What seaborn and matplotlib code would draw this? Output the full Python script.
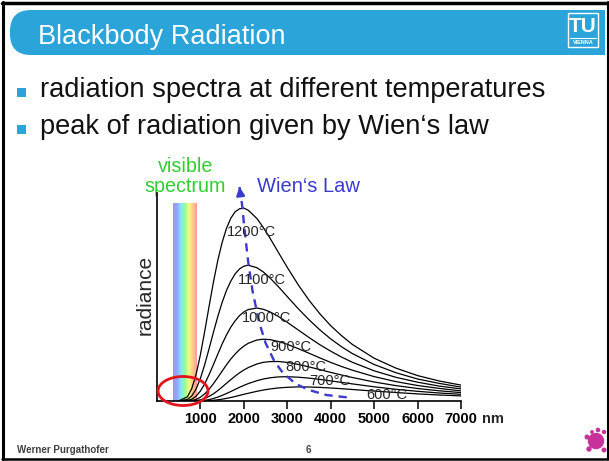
import numpy as np
import pandas as pd
import seaborn as sns
import matplotlib.pyplot as plt
from matplotlib.patches import Ellipse, FancyBboxPatch, Rectangle, Circle
from matplotlib.colors import LinearSegmentedColormap

# longitudes de onda (nm) y radiancia (unidades arbitrarias)
wavelength = [500, 700, 800, 900, 1000, 1100, 1200, 1300, 1400, 1500, 1600, 1700, 1800, 1900,
              2000, 2100, 2300, 2450, 2600, 2800, 3000, 3250, 3500, 3750, 4000, 4250, 4500,
              5000, 5500, 6000, 6500, 7000]

rad_1200 = [0.1, 4.2, 12.3, 26.5, 46.4, 70.0, 94.9, 119.0, 140.6, 158.6, 172.7, 182.8, 189.3, 192.2,
            192.9, 190.8, 182.5, 173.4, 163.0, 148.2, 133.6, 116.3, 100.8, 87.2, 75.3, 65.3, 56.5,
            42.8, 32.9, 25.4, 20.0, 15.9]
rad_1100 = [0.0, 1.5, 5.1, 12.0, 22.6, 36.6, 52.4, 68.8, 84.5, 98.6, 110.6, 119.9, 127.2, 132.1,
            134.8, 135.8, 133.3, 129.0, 123.1, 114.1, 104.4, 92.4, 81.3, 71.1, 62.1, 54.2, 47.4,
            36.5, 28.3, 22.0, 17.6, 13.9]
rad_1000 = [0.0, 0.5, 1.8, 4.8, 10.0, 17.3, 26.4, 36.5, 46.9, 57.0, 66.1, 73.9, 80.2, 85.4,
            89.1, 91.4, 93.0, 91.7, 89.2, 84.4, 78.7, 71.1, 63.5, 56.3, 49.8, 43.9, 38.7,
            30.2, 23.7, 18.8, 14.9, 12.1]
rad_900 = [0.0, 0.1, 0.5, 1.6, 3.8, 7.2, 11.8, 17.4, 23.5, 29.9, 36.2, 42.0, 47.0, 51.4,
           54.9, 57.7, 61.0, 61.8, 61.4, 59.5, 56.7, 52.4, 47.8, 43.1, 38.6, 34.5, 30.8,
           24.4, 19.4, 15.5, 12.6, 10.1]
rad_800 = [0.0, 0.0, 0.1, 0.5, 1.2, 2.5, 4.6, 7.2, 10.4, 14.0, 17.7, 21.4, 24.9, 28.2,
           31.0, 33.4, 37.0, 38.7, 39.4, 39.5, 38.6, 36.6, 34.1, 31.4, 28.6, 26.0, 23.5,
           19.0, 15.4, 12.5, 10.2, 8.4]
rad_700 = [0.0, 0.0, 0.0, 0.1, 0.3, 0.7, 1.4, 2.5, 3.9, 5.6, 7.5, 9.5, 11.6, 13.7,
           15.6, 17.4, 20.3, 22.0, 23.2, 24.1, 24.3, 23.8, 22.9, 21.6, 20.1, 18.6, 17.1,
           14.2, 11.7, 9.7, 8.0, 6.7]
rad_600 = [0.0, 0.0, 0.0, 0.0, 0.1, 0.2, 0.4, 0.7, 1.2, 1.8, 2.6, 3.5, 4.5, 5.6,
           6.7, 7.7, 9.7, 11.0, 12.0, 13.1, 13.7, 14.1, 14.0, 13.6, 13.0, 12.3, 11.5,
           9.9, 8.5, 7.1, 6.0, 5.1]

temps = ['1200°C', '1100°C', '1000°C', '900°C', '800°C', '700°C', '600°C']
curves = [rad_1200, rad_1100, rad_1000, rad_900, rad_800, rad_700, rad_600]

# posicion de las etiquetas de temperatura
label_nm = [2184, 2414, 2522, 3080, 3425, 3989, 5299]
label_rad = [169, 121, 83, 54, 34, 20, 6]

# ley de Wien (maximos)
wien_nm = [1900, 1970, 2000, 2100, 2200, 2350, 2500, 2700, 2900, 3200, 3500, 3900, 4400]
wien_rad = [214, 193, 178, 139, 110, 79, 58, 40, 28, 17, 11, 6, 3.5]

xticks = [1000, 2000, 3000, 4000, 5000, 6000, 7000]
visible_nm = [360, 900]
visible_top = 197
rainbow = ['#a294ea', '#8fa6ff', '#86e6ff', '#92ff95', '#f6fb86', '#ffc98a', '#ff9a96']

blue = '#2aa4d9'
wien_blue = '#3a3acc'
green = '#33cc33'

sns.set_style('white')
plt.rcParams['font.family'] = ['Liberation Sans', 'DejaVu Sans']

fig = plt.figure(figsize=(6.09, 4.61), dpi=100)

# fondo de la diapositiva en pixeles
bg = fig.add_axes([0, 0, 1, 1])
bg.set_xlim(0, 609)
bg.set_ylim(461, 0)
bg.axis('off')

# marco
bg.plot([3, 3], [2, 459], color='black', lw=2.2)
bg.plot([2, 609], [3, 3], color='black', lw=2.5)
bg.plot([2, 609], [459, 459], color='black', lw=1.8)
bg.plot([607.5, 607.5], [2, 459], color='black', lw=1.5)

# banda del titulo
bg.add_patch(FancyBboxPatch((10, 10), 120, 45, boxstyle='round,pad=0,rounding_size=21',
                            fc=blue, ec='none'))
bg.add_patch(Rectangle((60, 10), 545, 45, fc=blue, ec='none'))
bg.text(38, 44, 'Blackbody Radiation', color='white', fontsize=19.5, va='baseline')

# logo TU
bg.add_patch(Rectangle((568, 13), 30, 34, fill=False, ec='white', lw=1))
bg.text(583, 27, 'TU', color='white', fontsize=15, fontweight='bold', ha='center', va='center')
bg.plot([570, 596], [38, 38], color='white', lw=0.8)
bg.text(583, 43, 'VIENNA', color='white', fontsize=4, fontweight='bold', ha='center', va='center')

# vinetas
bg.add_patch(Rectangle((17, 88), 9, 9, fc=blue, ec='none'))
bg.text(40, 97, 'radiation spectra at different temperatures', fontsize=19.6, va='baseline', color='#111111')
bg.add_patch(Rectangle((17, 125), 9, 9, fc=blue, ec='none'))
bg.text(40, 134, 'peak of radiation given by Wien\u2018s law', fontsize=19.6, va='baseline', color='#111111')

# textos de la grafica
bg.text(185.5, 166, 'visible', color=green, fontsize=14.2, ha='center', va='center')
bg.text(185.5, 186, 'spectrum', color=green, fontsize=14.2, ha='center', va='center')
bg.text(257, 186, 'Wien\u2018s Law', color=wien_blue, fontsize=14.5, ha='left', va='center')
bg.text(482, 419, 'nm', fontsize=10.5, fontweight='bold', va='center')

# pie de pagina
bg.text(17, 450, 'Werner Purgathofer', fontsize=7, fontweight='bold', color='#404040', va='center')
bg.text(308, 450, '6', fontsize=7, fontweight='bold', color='#404040', va='center', ha='center')
for cx, cy, r in [(596, 441, 7.5), (587, 437, 1.8), (604, 432, 1.5), (598, 430, 1.6),
                  (589, 449, 2.0), (604, 450, 1.8), (592, 432, 1.2)]:
    bg.add_patch(Circle((cx, cy), r, color='#c8309c'))

# grafica
ax = fig.add_axes([157 / 609, 60 / 461, 304 / 609, 208 / 461])
ax.set_facecolor('none')

cmap = LinearSegmentedColormap.from_list('visible', rainbow)
ax.imshow(np.linspace(0, 1, 256)[None, :], cmap=cmap, aspect='auto', interpolation='bilinear',
          extent=[visible_nm[0], visible_nm[1], 0, visible_top], zorder=0.5)

df = pd.DataFrame({
    'wavelength': wavelength * len(curves),
    'radiance': sum(curves, []),
    'temp': np.repeat(temps, len(wavelength)),
})
sns.lineplot(data=df, x='wavelength', y='radiance', units='temp', estimator=None,
             color='black', linewidth=0.9, ax=ax, zorder=3)

sns.lineplot(x=wien_nm, y=wien_rad, color=wien_blue, linewidth=1.7, ax=ax, zorder=4)
wl = ax.lines[-1]
wl.set_dashes([3.5, 2.5])
wl.set_clip_on(False)
ax.annotate('', xy=(wien_nm[0], wien_rad[0]), xytext=(wien_nm[2], wien_rad[2]),
            arrowprops=dict(arrowstyle='-|>', color=wien_blue, lw=1.7, mutation_scale=12,
                            shrinkA=20, shrinkB=0),
            annotation_clip=False, zorder=4)

for t, x, y in zip(temps, label_nm, label_rad):
    ax.text(x, y, t, ha='center', va='center', fontsize=10.5, zorder=5)

ax.add_patch(Ellipse((600, 10), 1150, 29, fill=False, ec='#e3131b', lw=2, clip_on=False, zorder=6))

ax.set_xlim(0, 7000)
ax.set_ylim(0, 208)
ax.set_xticks(xticks)
ax.set_xticklabels([str(t) for t in xticks], fontweight='bold', fontsize=10.5)
ax.set_yticks([])
ax.set_xlabel('')
ax.set_ylabel('radiance', fontsize=15)
ax.yaxis.set_label_coords(-0.008, 0.51)
sns.despine(ax=ax)
for s in ['left', 'bottom']:
    ax.spines[s].set_color('black')
    ax.spines[s].set_linewidth(1.2)
ax.tick_params(axis='x', direction='out', length=6, width=1.1, pad=2, bottom=True, colors='black')

fig.savefig('out.png', dpi=100)
